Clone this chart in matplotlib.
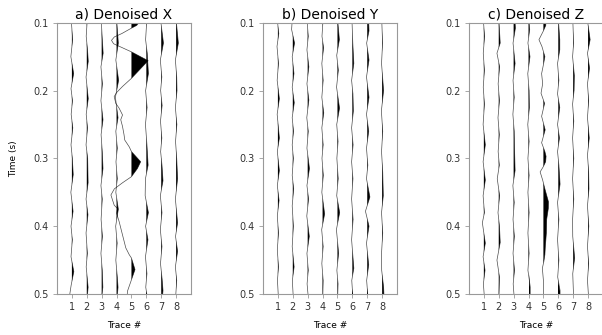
import matplotlib
matplotlib.use('Agg')
import numpy as np
import matplotlib.pyplot as plt

##########################################################
#        Denoised 3-component gather (8 traces)          #
##########################################################

# Each trace is a list of (time [s], amplitude [trace spacings]) knots
x_traces = [
    [(0.10, -0.03), (0.125, 0.05), (0.15, -0.07), (0.175, 0.12), (0.197, -0.06), (0.215, 0.04), (0.235, -0.05),
     (0.255, 0.06), (0.28, -0.06), (0.30, 0.03), (0.324, 0.09), (0.35, -0.07), (0.378, 0.08), (0.40, -0.06),
     (0.42, 0.03), (0.445, -0.06), (0.467, 0.13), (0.487, -0.05), (0.50, -0.14)],
    [(0.10, 0.02), (0.12, -0.04), (0.14, 0.05), (0.157, 0.10), (0.18, -0.05), (0.212, 0.10), (0.235, -0.04),
     (0.255, 0.05), (0.28, -0.05), (0.30, 0.06), (0.336, 0.09), (0.36, -0.05), (0.383, 0.08), (0.41, -0.05),
     (0.44, 0.04), (0.46, -0.04), (0.49, 0.09), (0.50, 0.05)],
    [(0.10, -0.02), (0.12, 0.03), (0.145, 0.10), (0.165, -0.05), (0.19, 0.05), (0.215, -0.05), (0.243, 0.09),
     (0.265, -0.04), (0.29, 0.04), (0.315, 0.09), (0.34, -0.05), (0.36, 0.04), (0.39, -0.04), (0.415, 0.05),
     (0.44, -0.05), (0.465, 0.04), (0.49, 0.08), (0.50, 0.03)],
    [(0.10, 0.02), (0.13, 0.12), (0.155, -0.05), (0.185, 0.14), (0.21, -0.08), (0.24, 0.10), (0.26, -0.05),
     (0.285, 0.05), (0.305, -0.04), (0.33, 0.05), (0.35, -0.05), (0.375, 0.12), (0.40, -0.06), (0.425, 0.04),
     (0.45, -0.05), (0.475, 0.05), (0.49, 0.10), (0.50, 0.06)],
    [(0.100, 0.50), (0.104, 0.35), (0.108, 0.0), (0.116, -0.65), (0.121, -1.15), (0.126, -1.34), (0.131, -1.2),
     (0.137, -0.6), (0.143, 0.0), (0.150, 0.6), (0.156, 1.12), (0.182, 0.0), (0.194, -0.6), (0.203, -1.0),
     (0.209, -1.16), (0.219, -1.05), (0.226, -0.83), (0.236, -0.6), (0.243, -0.72), (0.253, -0.6),
     (0.265, -0.5), (0.273, -0.45), (0.283, -0.15), (0.290, 0.0), (0.305, 0.62), (0.315, 0.4), (0.327, 0.0),
     (0.336, -0.6), (0.345, -1.15), (0.354, -1.38), (0.369, -1.16), (0.374, -0.94), (0.381, -1.0),
     (0.393, -0.83), (0.413, -0.6), (0.432, -0.38), (0.442, -0.15), (0.447, 0.0), (0.464, 0.24),
     (0.479, 0.0), (0.496, -0.27), (0.50, -0.28)],
    [(0.10, 0.02), (0.125, -0.05), (0.145, 0.06), (0.175, 0.14), (0.20, -0.05), (0.225, 0.05), (0.25, -0.06),
     (0.28, 0.04), (0.31, 0.12), (0.33, -0.06), (0.355, -0.08), (0.38, 0.14), (0.40, -0.05), (0.42, 0.11),
     (0.445, -0.06), (0.47, 0.04), (0.49, -0.04), (0.50, 0.03)],
    [(0.10, -0.02), (0.13, 0.15), (0.155, -0.06), (0.18, 0.04), (0.20, -0.04), (0.222, 0.06), (0.245, -0.05),
     (0.27, 0.04), (0.29, -0.04), (0.31, 0.05), (0.333, 0.12), (0.355, -0.06), (0.38, 0.05), (0.405, -0.06),
     (0.43, 0.05), (0.455, -0.05), (0.478, 0.06), (0.495, 0.12), (0.50, 0.10)],
    [(0.10, 0.02), (0.13, 0.15), (0.155, -0.05), (0.18, 0.04), (0.20, 0.06), (0.225, -0.05), (0.25, 0.05),
     (0.275, -0.04), (0.30, 0.04), (0.33, 0.10), (0.36, -0.05), (0.395, 0.10), (0.415, -0.04), (0.437, 0.10),
     (0.46, -0.05), (0.48, 0.04), (0.50, -0.02)],
]

y_traces = [
    [(0.10, -0.02), (0.116, 0.06), (0.135, -0.06), (0.16, 0.04), (0.185, -0.05), (0.212, 0.10), (0.235, -0.05),
     (0.27, 0.10), (0.29, -0.04), (0.318, 0.10), (0.34, -0.04), (0.362, 0.08), (0.385, -0.04), (0.41, 0.04),
     (0.435, -0.04), (0.46, 0.04), (0.48, -0.03), (0.50, 0.02)],
    [(0.10, -0.05), (0.11, -0.08), (0.13, 0.12), (0.15, -0.04), (0.175, 0.08), (0.195, -0.04), (0.218, 0.10),
     (0.24, -0.04), (0.26, 0.05), (0.28, -0.04), (0.30, 0.04), (0.325, -0.04), (0.345, 0.06), (0.37, -0.04),
     (0.40, 0.04), (0.43, -0.04), (0.46, 0.09), (0.48, -0.03), (0.50, 0.02)],
    [(0.10, -0.03), (0.12, 0.04), (0.14, -0.05), (0.165, 0.08), (0.19, -0.05), (0.214, 0.08), (0.24, -0.06),
     (0.26, 0.04), (0.285, -0.05), (0.315, 0.12), (0.34, -0.05), (0.36, 0.06), (0.385, -0.06), (0.415, 0.11),
     (0.44, -0.05), (0.465, 0.04), (0.485, -0.04), (0.50, 0.02)],
    [(0.10, 0.02), (0.12, -0.04), (0.137, 0.07), (0.16, -0.05), (0.185, 0.04), (0.21, -0.05), (0.233, 0.08),
     (0.255, -0.05), (0.28, 0.04), (0.30, -0.04), (0.325, 0.05), (0.35, -0.05), (0.382, 0.14), (0.405, -0.06),
     (0.43, 0.04), (0.455, -0.05), (0.48, 0.04), (0.50, 0.02)],
    [(0.10, 0.03), (0.125, 0.13), (0.148, -0.05), (0.17, 0.06), (0.195, -0.06), (0.226, 0.14), (0.25, -0.05),
     (0.275, 0.04), (0.30, -0.04), (0.33, 0.05), (0.355, -0.05), (0.38, 0.15), (0.405, -0.07), (0.44, 0.08),
     (0.465, -0.04), (0.485, 0.04), (0.50, 0.02)],
    [(0.10, -0.02), (0.13, 0.03), (0.16, 0.10), (0.185, -0.05), (0.205, 0.04), (0.23, 0.07), (0.255, -0.05),
     (0.28, 0.05), (0.305, -0.05), (0.33, 0.04), (0.36, -0.05), (0.39, 0.05), (0.42, -0.05), (0.462, 0.10),
     (0.48, -0.04), (0.50, 0.02)],
    [(0.10, 0.10), (0.112, 0.12), (0.13, -0.04), (0.155, 0.12), (0.18, -0.05), (0.21, 0.12), (0.235, -0.05),
     (0.26, 0.10), (0.285, -0.05), (0.31, 0.04), (0.33, -0.05), (0.357, 0.18), (0.378, -0.12), (0.40, 0.12),
     (0.425, -0.05), (0.457, 0.10), (0.48, -0.04), (0.50, 0.03)],
    [(0.10, -0.02), (0.13, 0.03), (0.16, -0.04), (0.20, 0.10), (0.23, -0.05), (0.26, 0.04), (0.29, -0.04),
     (0.32, 0.04), (0.355, 0.08), (0.38, -0.04), (0.41, 0.04), (0.44, -0.04), (0.465, -0.03), (0.49, 0.10),
     (0.50, 0.12)],
]

z_traces = [
    [(0.10, -0.02), (0.12, 0.05), (0.145, -0.04), (0.17, 0.04), (0.195, -0.04), (0.22, 0.04), (0.25, -0.05),
     (0.28, 0.10), (0.305, -0.05), (0.332, 0.10), (0.355, -0.05), (0.38, 0.04), (0.395, -0.10), (0.425, 0.10),
     (0.445, -0.05), (0.465, 0.08), (0.485, -0.03), (0.50, 0.02)],
    [(0.10, 0.02), (0.13, 0.10), (0.145, -0.12), (0.165, 0.06), (0.19, -0.04), (0.215, 0.05), (0.24, -0.05),
     (0.265, 0.04), (0.29, -0.04), (0.31, 0.04), (0.33, -0.10), (0.355, 0.06), (0.38, -0.05), (0.40, 0.05),
     (0.424, 0.10), (0.45, -0.12), (0.475, 0.05), (0.50, 0.02)],
    [(0.10, 0.10), (0.108, 0.12), (0.13, -0.04), (0.16, 0.10), (0.185, -0.04), (0.21, 0.04), (0.235, -0.05),
     (0.26, 0.04), (0.285, 0.06), (0.318, 0.10), (0.34, -0.05), (0.365, 0.04), (0.39, -0.04), (0.415, 0.05),
     (0.44, -0.04), (0.465, 0.06), (0.485, -0.03), (0.50, 0.02)],
    [(0.10, 0.04), (0.11, 0.08), (0.13, -0.04), (0.15, 0.10), (0.175, -0.05), (0.20, 0.04), (0.225, 0.06),
     (0.25, -0.05), (0.275, 0.04), (0.30, -0.04), (0.325, 0.04), (0.35, -0.04), (0.38, 0.04), (0.41, -0.04),
     (0.44, 0.04), (0.465, -0.04), (0.49, 0.12), (0.50, 0.12)],
    [(0.100, 0.16), (0.104, 0.16), (0.112, 0.0), (0.125, -0.30), (0.135, -0.10), (0.150, 0.10), (0.162, 0.0),
     (0.175, -0.12), (0.190, -0.05), (0.204, -0.16), (0.219, 0.08), (0.238, -0.12), (0.258, 0.12),
     (0.277, -0.12), (0.290, 0.10), (0.297, 0.18), (0.305, 0.15), (0.312, 0.0), (0.320, -0.22),
     (0.332, -0.05), (0.345, 0.10), (0.364, 0.34), (0.374, 0.33), (0.390, 0.22), (0.410, 0.20),
     (0.430, 0.13), (0.442, 0.10), (0.452, 0.03), (0.462, -0.07), (0.480, 0.0), (0.50, 0.0)],
    [(0.10, 0.02), (0.125, 0.10), (0.14, 0.10), (0.16, -0.05), (0.185, 0.04), (0.205, -0.05), (0.225, 0.10),
     (0.25, -0.05), (0.27, 0.08), (0.29, -0.05), (0.31, 0.04), (0.338, 0.12), (0.365, -0.05), (0.39, 0.04),
     (0.42, -0.05), (0.45, 0.04), (0.475, -0.04), (0.495, 0.12), (0.50, 0.12)],
    [(0.10, -0.02), (0.13, 0.03), (0.15, -0.04), (0.178, 0.08), (0.20, 0.06), (0.22, -0.04), (0.245, 0.04),
     (0.27, -0.04), (0.30, 0.04), (0.33, -0.04), (0.36, 0.04), (0.39, -0.04), (0.415, -0.03), (0.447, 0.10),
     (0.47, -0.03), (0.50, 0.02)],
    [(0.10, -0.02), (0.125, 0.14), (0.145, -0.04), (0.167, 0.10), (0.19, -0.04), (0.215, 0.04), (0.24, -0.04),
     (0.27, 0.08), (0.295, -0.04), (0.32, 0.04), (0.345, 0.06), (0.37, -0.04), (0.40, 0.05), (0.43, -0.04),
     (0.455, 0.04), (0.48, -0.04), (0.50, 0.02)],
]

titles = ['a) Denoised X', 'b) Denoised Y', 'c) Denoised Z']
trace_numbers = [1, 2, 3, 4, 5, 6, 7, 8]
time_ticks = [0.1, 0.2, 0.3, 0.4, 0.5]


##########################################################
#                 Wiggle plot of one gather              #
##########################################################

def plot_wiggles(ax, traces, title):
    '''Draws variable-area wiggle traces, positive lobes filled black.'''

    for k, trace in zip(trace_numbers, traces):
        t = np.array([p[0] for p in trace])
        a = np.array([p[1] for p in trace])
        x = k + a
        ax.plot(x, t, color='black', lw=0.5, alpha=0.7)
        ax.fill_betweenx(t, k, x, where=x > k, interpolate=True, color='black', lw=0)

    ax.set_xlim(0, 9)
    ax.set_ylim(0.5, 0.1)
    ax.set_xticks(trace_numbers)
    ax.set_yticks(time_ticks)
    ax.set_yticklabels(['%.1f' % v for v in time_ticks])
    ax.set_title(title, fontsize=10, pad=3)
    ax.set_xlabel('Trace #', fontsize=6.5, labelpad=6)

    for spine in ax.spines.values():
        spine.set_color('#999999')
        spine.set_linewidth(0.8)
    ax.tick_params(colors='#999999', labelcolor='#333333', labelsize=7, length=3, width=0.6, pad=3)


fig = plt.figure(figsize=(6.02, 3.35), dpi=100)

# Axes boxes placed side by side
lefts = [0.0947, 0.4369, 0.7790]
for left, traces, title in zip(lefts, [x_traces, y_traces, z_traces], titles):
    ax = fig.add_axes([left, 0.1224, 0.2226, 0.8098])
    plot_wiggles(ax, traces, title)
    if left == lefts[0]:
        ax.set_ylabel('Time (s)', fontsize=6.5, labelpad=11)

plt.savefig('out.png', dpi=100, facecolor='white')
